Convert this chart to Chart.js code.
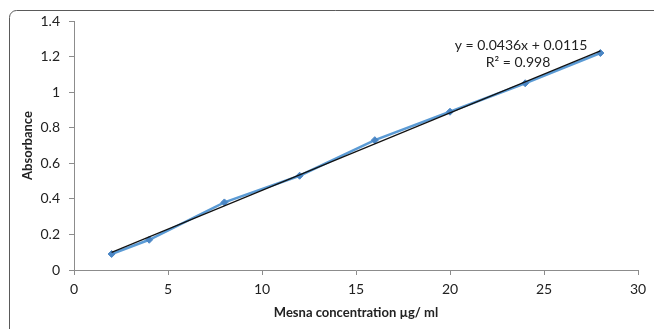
<!DOCTYPE html>
<html>
<head>
<meta charset="utf-8">
<script src="https://cdn.jsdelivr.net/npm/chart.js@4"></script>
<style>
  html, body { margin: 0; padding: 0; background: #fff; }
  #wrap { width: 654px; height: 329px; position: relative; }
</style>
</head>
<body>
<div id="wrap"><canvas id="Calib"></canvas></div>
<script>
// values
const concentration = [2, 4, 8, 12, 16, 20, 24, 28];
const absorbance = [0.09, 0.17, 0.38, 0.53, 0.73, 0.89, 1.05, 1.22];
const trend_x = [2, 28];
const trend_y = [0.099, 1.232];
const equation_lines = ['y = 0.0436x + 0.0115', 'R² = 0.998'];
const x_ticks = [0, 5, 10, 15, 20, 25, 30];
const y_ticks = [0, 0.2, 0.4, 0.6, 0.8, 1, 1.2, 1.4];

const font_family = "Lato, 'Open Sans', sans-serif";

const frame_plugin = {
    id: 'frame',
    beforeDraw(chart) {
        const ctx = chart.ctx;
        ctx.save();
        ctx.strokeStyle = '#5a5a5a';
        ctx.lineWidth = 1;
        ctx.beginPath();
        ctx.roundRect(9.5, 10.5, 700, 400, 7);
        ctx.stroke();
        ctx.restore();
    },
    afterDraw(chart) {
        const ctx = chart.ctx;
        ctx.save();
        ctx.fillStyle = '#222';
        ctx.font = '14px ' + font_family;
        ctx.textAlign = 'center';
        ctx.textBaseline = 'middle';
        ctx.fillText(equation_lines[0], 521, 45);
        ctx.fillText(equation_lines[1], 518, 62);
        ctx.restore();
    }
};

const calib_canvas = document.getElementById('Calib');

const calib_chart = new Chart(
    calib_canvas,
    {
        type: 'scatter',
        data: {
            datasets: [
                {
                    label: 'Linear fit',
                    data: trend_x.map((x, i) => ({x: x, y: trend_y[i]})),
                    showLine: true,
                    borderColor: '#111',
                    borderWidth: 1.2,
                    pointRadius: 0,
                    order: 0,
                },
                {
                    label: 'Absorbance',
                    data: concentration.map((x, i) => ({x: x, y: absorbance[i]})),
                    showLine: true,
                    borderColor: '#5b9bd5',
                    backgroundColor: '#4a86c5',
                    borderWidth: 2.5,
                    pointStyle: 'rectRot',
                    pointRadius: 3.5,
                    pointBorderWidth: 1,
                    pointBorderColor: '#4a86c5',
                    order: 1,
                }
            ]
        },
        options: {
            responsive: true,
            maintainAspectRatio: false,
            animation: false,
            layout: {
                padding: {left: 20, top: 21, right: 16, bottom: 8}
            },
            scales: {
                x: {
                    type: 'linear',
                    min: 0,
                    max: 30,
                    afterBuildTicks: (scale) => { scale.ticks = x_ticks.map(v => ({value: v})); },
                    afterFit: (scale) => { scale.height = 51; },
                    grid: {
                        drawOnChartArea: false,
                        drawTicks: true,
                        tickLength: 5,
                        color: '#8c8c8c',
                    },
                    border: {color: '#8c8c8c'},
                    ticks: {
                        color: '#222',
                        padding: 6,
                        font: {family: font_family, size: 14},
                    },
                    title: {
                        display: true,
                        text: 'Mesna concentration µg/ ml',
                        color: '#222',
                        padding: {top: 4, bottom: 0},
                        font: {family: font_family, size: 13, weight: 'bold'},
                    }
                },
                y: {
                    type: 'linear',
                    min: 0,
                    max: 1.4,
                    afterBuildTicks: (scale) => { scale.ticks = y_ticks.map(v => ({value: v})); },
                    afterFit: (scale) => { scale.width = 54; },
                    grid: {
                        drawOnChartArea: false,
                        drawTicks: true,
                        tickLength: 5,
                        color: '#8c8c8c',
                    },
                    border: {color: '#8c8c8c'},
                    ticks: {
                        color: '#222',
                        padding: 9,
                        font: {family: font_family, size: 14},
                        callback: (v) => String(Math.round(v * 10) / 10),
                    },
                    title: {
                        display: true,
                        text: 'Absorbance',
                        color: '#222',
                        padding: {top: 0, bottom: 0},
                        font: {family: font_family, size: 13, weight: 'bold'},
                    }
                }
            },
            plugins: {
                legend: {display: false},
                tooltip: {enabled: false}
            }
        },
        plugins: [frame_plugin]
    }
)
</script>
</body>
</html>
